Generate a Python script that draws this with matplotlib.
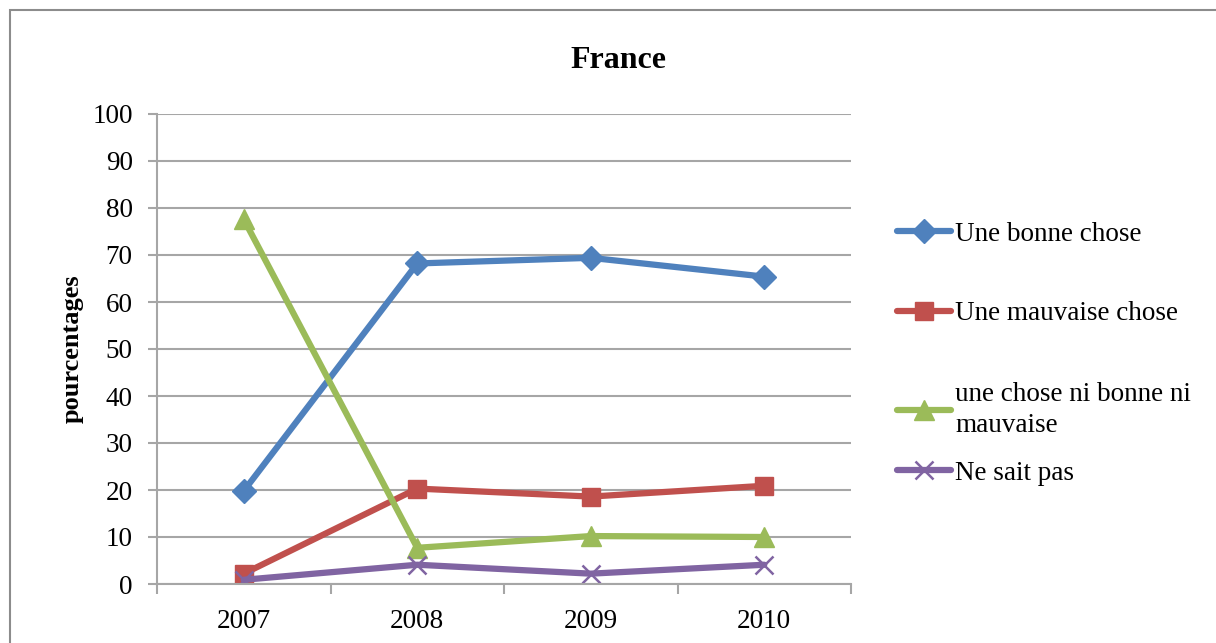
import matplotlib
matplotlib.use("Agg")
import matplotlib.pyplot as plt
from matplotlib.patches import Rectangle
from matplotlib.legend import Legend
from matplotlib.ticker import FixedLocator

years = ["2007", "2008", "2009", "2010"]
bonne = [19.8, 68.2, 69.4, 65.4]
mauvaise = [2.2, 20.3, 18.6, 20.9]
ni_ni = [77.6, 7.7, 10.2, 10.0]
ne_sait_pas = [0.9, 4.1, 2.2, 4.1]
labels = ["Une bonne chose", "Une mauvaise chose",
          "une chose ni bonne ni\nmauvaise", "Ne sait pas"]
yticks = list(range(0, 101, 10))

plt.rcParams['font.family'] = ['Liberation Serif', 'DejaVu Serif']

W, H = 1216, 643
fig = plt.figure(figsize=(W / 100, H / 100), dpi=100)
ax = fig.add_axes([157 / W, 1 - 584 / H, (851 - 157) / W, (584 - 114) / H])

# outer chart frame
fig.patches.append(Rectangle((10 / W, -0.1), 1.2, 1 - 10 / H + 0.1,
                             transform=fig.transFigure, fill=False,
                             edgecolor='#8c8c8c', linewidth=1.5))

x = list(range(len(years)))
series = [
    (bonne, '#4F81BD', 'D', 12),
    (mauvaise, '#C0504D', 's', 13),
    (ni_ni, '#9BBB59', '^', 14),
    (ne_sait_pas, '#8064A2', 'x', 13),
]
handles = []
for (vals, col, mk, ms), lab in zip(series, labels):
    kw = dict(color=col, linewidth=4.5, marker=mk, markersize=ms, label=lab,
              solid_joinstyle='round', solid_capstyle='round')
    if mk == 'x':
        kw.update(markeredgewidth=1.8, markeredgecolor=col)
    else:
        kw.update(markeredgecolor=col, markerfacecolor=col)
    h, = ax.plot(x, vals, **kw)
    handles.append(h)

ax.set_xlim(-0.5, len(years) - 0.5)
ax.set_ylim(0, 100)
ax.set_yticks(yticks)
ax.set_xticks(x)
ax.set_xticklabels(years)
ax.xaxis.set_minor_locator(FixedLocator([i - 0.5 for i in range(len(years) + 1)]))

ax.grid(axis='y', color='#a6a6a6', linewidth=1.5, zorder=0)
ax.set_axisbelow(True)
for s in ['top', 'right']:
    ax.spines[s].set_visible(False)
for s in ['left', 'bottom']:
    ax.spines[s].set_color('#a6a6a6')
    ax.spines[s].set_linewidth(1.5)

ax.tick_params(axis='y', which='major', length=6.5, width=1.5, color='#a6a6a6',
               labelsize=19.5, pad=11)
ax.tick_params(axis='x', which='major', length=0, labelsize=19.5, pad=18)
ax.tick_params(axis='x', which='minor', length=7, width=1.5, color='#a6a6a6')

ax.set_ylabel('pourcentages', fontsize=19, fontweight='bold')
ax.yaxis.set_label_coords((84 - 157) / (851 - 157), 0.5)
fig.text(618 / W, 1 - 60 / H, 'France', ha='center', va='center',
         fontsize=23, fontweight='bold')

# legend: one entry per legend box, stacked like the original
entry_centres_px = [234, 314, 410, 473]
for h, lab, yc in zip(handles, labels, entry_centres_px):
    leg = Legend(ax, [h], [lab], loc='center left',
                 bbox_to_anchor=(1.066, (584 - yc) / (584 - 114)),
                 frameon=False, fontsize=19.5, handlelength=2.0,
                 handletextpad=0.15, borderpad=0, borderaxespad=0)
    for t in leg.get_texts():
        t.set_linespacing(1.3)
    ax.add_artist(leg)

fig.savefig('out.png', dpi=100)
